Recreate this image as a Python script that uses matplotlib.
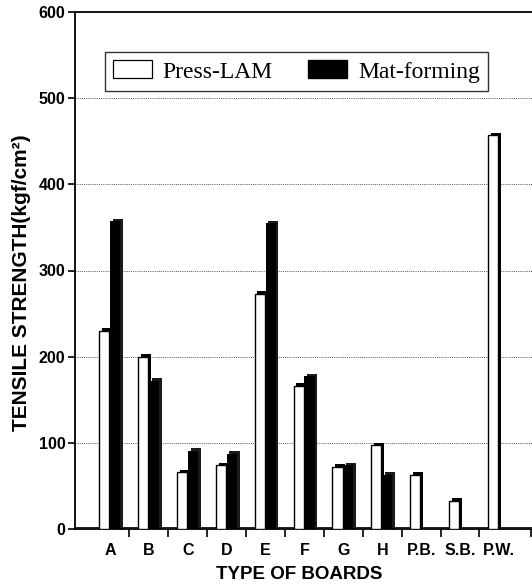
import numpy as np
import matplotlib
matplotlib.use('Agg')
import matplotlib.pyplot as plt

boards = ['A', 'B', 'C', 'D', 'E', 'F', 'G', 'H', 'P.B.', 'S.B.', 'P.W.']
press_lam = [230, 200, 66, 74, 273, 166, 72, 97, 63, 33, 457]
mat_forming = [357, 172, 91, 87, 355, 177, 74, 63, np.nan, np.nan, np.nan]

fig = plt.figure(figsize=(5.32, 5.86), dpi=100)
ax = fig.add_axes([75/532, 57/586, 457/532, 517/586])

x = np.arange(len(boards))
w = 0.26
dx = 0.07
dy = 3

# floor strip
ax.axhspan(0, 2.5, xmin=0, xmax=1, facecolor='#c8c8c8', edgecolor='black', lw=0.6, zorder=1.5)

# white bars with dark side
ax.bar(x - 0.28 + dx, np.array(press_lam) + dy, width=w, align='edge', color='black', zorder=2)
ax.bar(x - 0.28, press_lam, width=w, align='edge', facecolor='white', edgecolor='black', lw=1.0, zorder=3)
# black bars
mf = np.array(mat_forming)
ax.bar(x + dx, mf + dy, width=w, align='edge', color='#1a1a1a', zorder=2)
ax.bar(x, mf, width=w, align='edge', color='black', zorder=3)

ax.set_xlim(-0.9, 10.85)
ax.set_ylim(0, 600)

for y in [100, 200, 300, 400, 500]:
    ax.axhline(y, color='#555555', lw=0.7, ls=(0, (1, 1.2)), zorder=1)

ax.spines['right'].set_visible(False)
for s in ['left', 'top', 'bottom']:
    ax.spines[s].set_linewidth(1.3)

ax.set_yticks([0, 100, 200, 300, 400, 500, 600])
ax.set_yticklabels(['0', '100', '200', '300', '400', '500', '600'],
                   fontsize=11.5, fontweight='bold', family='Liberation Sans')
ax.tick_params(axis='y', direction='out', length=5, width=1.2, pad=2)

ax.set_xticks(list(np.arange(0.5, 10, 1.0)) + [10.83])
ax.set_xticklabels([])
ax.tick_params(axis='x', which='major', direction='out', length=6, width=1.2)
ax.set_xticks(x, minor=True)
ax.set_xticklabels(boards, minor=True, fontsize=11.5, fontweight='bold', family='Liberation Sans')
ax.tick_params(axis='x', which='minor', length=0, pad=10)

ax.set_xlabel('TYPE OF BOARDS', fontsize=13.5, fontweight='bold', family='Liberation Sans', va='top')
ax.xaxis.set_label_coords(0.49, -0.072)
fig.text(22/532, 1 - 283/586, 'TENSILE STRENGTH(kgf/cm²)', rotation=90,
         ha='center', va='center', fontsize=15, fontweight='bold', family='Liberation Sans')

# legend
h1 = plt.Rectangle((0, 0), 1, 1, facecolor='white', edgecolor='black', lw=0.9)
h2 = plt.Rectangle((0, 0), 1, 1, facecolor='black', edgecolor='black')
leg = ax.legend([h1, h2], ['Press-LAM', 'Mat-forming'], ncol=2, loc='upper left',
                bbox_to_anchor=(30/457, (529-52)/517), frameon=True, fancybox=False,
                prop={'family': 'Liberation Serif', 'size': 17},
                handlelength=1.65, handleheight=0.8, handletextpad=0.45, columnspacing=1.5,
                borderpad=0.35, borderaxespad=0)
leg.get_frame().set_edgecolor('black')
leg.get_frame().set_linewidth(1.0)

fig.savefig('out.png', dpi=100)
